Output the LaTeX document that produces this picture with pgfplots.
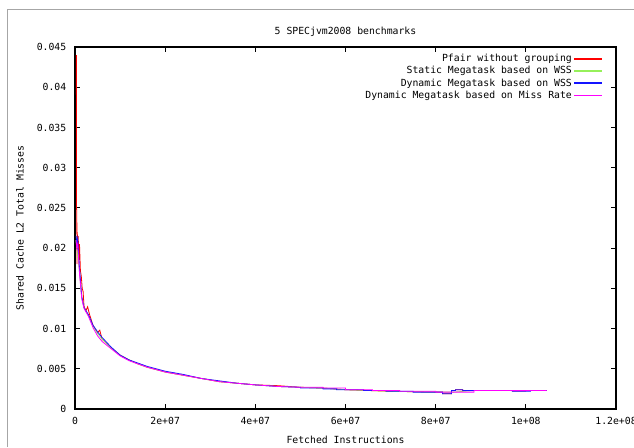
\documentclass[border=0pt]{standalone}
\usepackage{pgfplots}
\pgfplotsset{compat=1.18}
\usepackage{fontspec}
\setmainfont{DejaVu Sans Mono}
\definecolor{gpred}{RGB}{255,0,0}
\definecolor{gpgreen}{RGB}{150,240,90}
\definecolor{gpblue}{RGB}{20,20,255}
\definecolor{gpmag}{RGB}{255,0,255}
\begin{document}
\begin{tikzpicture}
\useasboundingbox (0,0) rectangle (475.5pt,335.25pt);
\draw[black!35, line width=0.7pt] (5.25pt,0) -- (5.25pt,328.5pt) -- (475.5pt,328.5pt);
\begin{axis}[
  at={(56.25pt,28.5pt)}, anchor=south west,
  scale only axis, width=405.75pt, height=271.5pt,
  xmin=0, xmax=1.2e8, ymin=0, ymax=0.045,
  font=\fontsize{7.35}{9}\selectfont,
  /pgf/number format/assume math mode=true,
  xtick={0,2e7,4e7,6e7,8e7,1e8,1.2e8},
  xticklabels={0,2e+07,4e+07,6e+07,8e+07,1e+08,1.2e+08},
  ytick={0,0.005,0.01,0.015,0.02,0.025,0.03,0.035,0.04,0.045},
  yticklabels={0,0.005,0.01,0.015,0.02,0.025,0.03,0.035,0.04,0.045},
  scaled ticks=false,
  tick align=inside, major tick length=3.75pt,
  tick style={black, line width=0.7pt},
  axis line style={line width=0.8pt},
  xticklabel style={yshift=-3pt},
  yticklabel style={xshift=-3pt},
  title={5 SPECjvm2008 benchmarks},
  title style={at={(axis description cs:0.5,1.019)}, anchor=center},
  xlabel={Fetched Instructions},
  xlabel style={at={(axis description cs:0.5,-0.0856)}, anchor=center},
  ylabel={Shared Cache L2 Total Misses},
  ylabel style={at={(axis description cs:-0.1017,0.5)}, anchor=center},
  legend style={draw=none, fill=none, at={(axis description cs:0.983,0.993)}, anchor=north east,
    nodes={inner sep=1.2pt}, row sep=-0.3pt},
  legend cell align=right,
  legend plot pos=right,
  legend image code/.code={\draw[#1, line width=1.3pt] (5.5pt,0pt) -- (26pt,0pt);},
  every axis plot/.append style={line width=0.6pt},
]
\addplot[draw=gpred] coordinates {
(3e5,0.0440)(3.4e5,0.0250)(4e5,0.0245)(4.5e5,0.0180)(5e5,0.0220)(6e5,0.0205)(7e5,0.0215)(9e5,0.0185)(1.0e6,0.0205)(1.2e6,0.0172)(1.4e6,0.0165)(1.6e6,0.0150)(1.8e6,0.0146)(2.0e6,0.0128)(2.4e6,0.0122)(2.8e6,0.0127)(3.2e6,0.0118)(4e6,0.0104)(5e6,0.0095)(5.5e6,0.0098)(6e6,0.0087)(8e6,0.0076)(10e6,0.0067)(12e6,0.0061)(14e6,0.0056)(16e6,0.0052)(18e6,0.0049)(20e6,0.0046)(24e6,0.0042)(28e6,0.0038)(32e6,0.0034)(36e6,0.0032)(40e6,0.0030)(45e6,0.0029)(50e6,0.0027)(55e6,0.0026)(60e6,0.0024)(65e6,0.0023)(70e6,0.0022)(75e6,0.00215)(80e6,0.0021)(81.5e6,0.0021)(81.5e6,0.0019)(83.5e6,0.0019)(83.5e6,0.0023)(84.4e6,0.0023)(84.4e6,0.0024)(86e6,0.0024)(86e6,0.0023)(97e6,0.0023)(97e6,0.00225)(100e6,0.00225)(100e6,0.0023)(104.6e6,0.0023)};
\addlegendentry{Pfair without grouping}
\addplot[draw=gpgreen] coordinates {
(2e5,0.0210)(5e5,0.0195)(1.0e6,0.0170)(1.5e6,0.0138)(2e6,0.0126)(3e6,0.0116)(4e6,0.0103)(5e6,0.0094)(6e6,0.0087)(8e6,0.0076)(10e6,0.0067)(12e6,0.0061)(14e6,0.0056)(16e6,0.0052)(18e6,0.0049)(20e6,0.0046)(24e6,0.0042)(28e6,0.0038)(32e6,0.0034)(36e6,0.0032)(40e6,0.0030)(45e6,0.0028)(50e6,0.0027)(55e6,0.0026)(60e6,0.0024)(65e6,0.0023)(70e6,0.0022)(75e6,0.00215)(80e6,0.0021)(84e6,0.0021)(88.5e6,0.0023)(104.6e6,0.0023)};
\addlegendentry{Static Megatask based on WSS}
\addplot[draw=gpblue] coordinates {
(2.5e5,0.0215)(4e5,0.0205)(6e5,0.0212)(1.0e6,0.0175)(1.5e6,0.0140)(2e6,0.0126)(3e6,0.0117)(4e6,0.0104)(5e6,0.0096)(6e6,0.0089)(8e6,0.0077)(10e6,0.0067)(12e6,0.0061)(14e6,0.0057)(16e6,0.0053)(18e6,0.0050)(20e6,0.0047)(24e6,0.0043)(28e6,0.0038)(32e6,0.0035)(36e6,0.0032)(40e6,0.0030)(45e6,0.0028)(50e6,0.0027)(50e6,0.0026)(55e6,0.0026)(55e6,0.0025)(58e6,0.0025)(58e6,0.0024)(64e6,0.0024)(64e6,0.0023)(69e6,0.0023)(69e6,0.0022)(75e6,0.0022)(75e6,0.0021)(81.5e6,0.0021)(81.5e6,0.0019)(83.5e6,0.0019)(83.5e6,0.0023)(84.4e6,0.0023)(84.4e6,0.0024)(86e6,0.0024)(86e6,0.0023)(97e6,0.0023)(97e6,0.00222)(101e6,0.00222)(101e6,0.0023)(104.6e6,0.0023)};
\addlegendentry{Dynamic Megatask based on WSS}
\addplot[draw=gpmag] coordinates {
(2.5e5,0.0210)(4e5,0.0200)(6e5,0.0205)(1.0e6,0.0168)(1.5e6,0.0137)(2e6,0.0125)(3e6,0.0115)(4e6,0.0101)(5e6,0.0091)(6e6,0.0084)(8e6,0.0075)(10e6,0.0066)(12e6,0.0060)(14e6,0.0056)(16e6,0.0052)(18e6,0.0049)(20e6,0.0046)(24e6,0.0042)(28e6,0.0038)(32e6,0.0034)(36e6,0.0032)(40e6,0.0030)(45e6,0.0028)(50e6,0.0027)(55e6,0.0027)(55e6,0.0026)(60e6,0.0026)(60e6,0.0024)(66e6,0.0024)(66e6,0.0023)(72e6,0.0023)(72e6,0.0022)(80e6,0.0022)(80e6,0.0021)(88.5e6,0.0021)(88.5e6,0.0023)(104.6e6,0.0023)};
\addlegendentry{Dynamic Megatask based on Miss Rate}
\end{axis}
\end{tikzpicture}
\end{document}
